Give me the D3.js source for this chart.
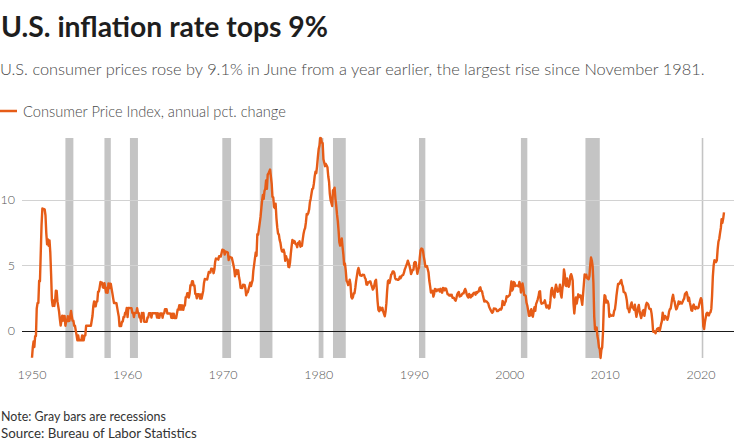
<!DOCTYPE html>
<html><head><meta charset="utf-8">
<script src="https://cdn.jsdelivr.net/npm/d3@7/dist/d3.min.js"></script>
<style>
body{margin:0;background:#fff}
svg{display:block}
text{font-family:Lato,"Noto Sans",sans-serif}
</style>
</head><body>
<svg id="chart" width="736" height="446"></svg>
<script>
// Monthly CPI-U, annual % change, starting January of each decade
const cpi1950s = [
-2.08,-1.26,-0.84,-1.26,-0.42,-0.42,1.69,2.11,2.11,3.82,3.80,5.93,
8.09,9.36,9.32,9.32,9.28,8.82,7.47,6.61,6.98,6.50,6.91,6.00,
4.33,2.33,1.89,2.31,1.89,2.27,3.05,3.04,2.22,1.85,1.45,0.88,
0.38,0.76,1.14,0.76,1.13,1.13,0.37,0.74,0.74,1.11,0.74,0.75,
1.13,1.50,1.12,0.75,0.75,0.37,0.37,0.00,-0.37,-0.74,-0.37,-0.74,
-0.74,-0.74,-0.74,-0.37,-0.74,-0.74,-0.37,-0.37,0.37,0.37,0.37,0.37,
0.37,0.37,0.37,0.75,1.12,1.87,2.24,1.87,1.86,2.23,2.23,2.99,
2.99,3.35,3.72,3.69,3.68,3.31,3.28,3.63,3.28,2.91,3.27,2.90,
3.62,3.25,3.60,3.58,3.21,2.85,2.47,2.12,2.12,2.12,2.11,1.76,
1.40,1.05,0.35,0.35,0.35,0.69,0.69,1.04,1.04,1.38,1.38,1.73];
const cpi1960s = [
1.04,1.73,1.73,1.72,1.72,1.72,1.37,1.37,1.03,1.36,1.36,1.36,
1.71,1.36,1.36,1.01,1.01,0.68,1.35,1.01,1.35,0.67,0.67,0.67,
0.67,1.01,1.01,1.34,1.34,1.34,1.00,1.34,1.33,1.33,1.33,1.33,
1.33,1.00,1.33,0.99,0.99,1.32,1.32,1.32,0.99,1.32,1.32,1.64,
1.64,1.64,1.31,1.31,1.31,1.31,1.30,0.98,1.30,0.97,1.30,0.97,
0.97,0.97,1.29,1.62,1.62,1.94,1.61,1.94,1.61,1.93,1.60,1.92,
1.92,2.56,2.56,2.87,2.87,2.53,2.85,3.48,3.48,3.79,3.79,3.46,
3.46,2.81,2.81,2.48,2.79,2.79,2.77,2.46,2.77,2.45,2.75,3.04,
3.65,3.95,3.94,3.93,3.92,4.21,4.49,4.46,4.45,4.75,4.73,4.72,
4.40,4.68,5.25,5.52,5.51,5.48,5.44,5.71,5.70,5.67,5.93,6.20];
const cpi1970s = [
6.18,6.15,5.82,6.06,6.04,6.01,5.98,5.41,5.66,5.63,5.60,5.57,
5.29,5.00,4.71,4.16,4.40,4.64,4.36,4.62,4.08,3.80,3.28,3.27,
3.27,3.51,3.50,3.49,3.23,2.71,2.95,2.94,3.19,3.42,3.67,3.41,
3.65,3.87,4.59,5.06,5.53,5.99,5.73,7.38,7.36,7.80,8.25,8.71,
9.39,10.02,10.39,10.09,10.71,10.86,11.51,10.86,11.95,12.06,12.20,12.34,
11.80,11.23,10.25,10.21,9.47,9.39,9.72,8.60,7.91,7.44,7.38,6.94,
6.72,6.29,6.07,6.05,6.20,5.97,5.35,5.71,5.49,5.46,4.88,4.86,
5.22,5.91,6.44,6.95,6.73,6.87,6.83,6.62,6.60,6.39,6.72,6.70,
6.84,6.43,6.55,6.50,6.97,7.41,7.70,7.86,8.31,8.93,8.89,9.02,
9.28,9.86,10.09,10.49,10.85,10.89,11.26,11.82,12.18,12.07,12.61,13.29];
const cpi1980s = [
13.91,14.18,14.76,14.73,14.41,14.38,13.13,12.87,12.60,12.77,12.65,12.52,
11.83,11.41,10.49,10.00,9.78,9.55,10.76,10.80,10.95,10.14,9.59,8.92,
8.39,7.62,6.78,6.51,6.68,7.06,6.44,5.85,5.04,5.14,4.59,3.83,
3.71,3.49,3.60,3.90,3.55,2.58,2.46,2.56,2.86,2.85,3.27,3.79,
4.19,4.60,4.80,4.56,4.23,4.22,4.20,4.29,4.27,4.26,4.05,3.95,
3.53,3.52,3.70,3.69,3.77,3.76,3.55,3.35,3.14,3.23,3.51,3.80,
3.89,3.11,2.26,1.59,1.49,1.77,1.58,1.57,1.75,1.47,1.28,1.10,
1.46,2.10,3.03,3.78,3.86,3.65,3.93,4.28,4.36,4.53,4.53,4.43,
4.03,3.93,3.93,3.89,3.89,3.96,4.13,4.02,4.17,4.25,4.25,4.42,
4.67,4.83,4.98,5.14,5.36,5.17,4.98,4.71,4.34,4.49,4.65,4.65];
const cpi1990s = [
5.20,5.26,5.23,4.71,4.36,4.67,4.82,5.62,6.16,6.29,6.27,6.11,
5.65,5.31,4.90,4.89,4.95,4.70,4.45,3.80,3.39,2.92,2.99,3.06,
2.60,2.82,3.19,3.18,3.02,3.09,3.16,3.15,2.99,3.20,3.05,2.90,
3.26,3.25,3.09,3.23,3.22,3.00,2.78,2.77,2.69,2.75,2.68,2.75,
2.52,2.52,2.51,2.36,2.29,2.49,2.77,2.90,2.96,2.61,2.67,2.67,
2.80,2.86,2.85,3.05,3.19,3.04,2.76,2.62,2.54,2.81,2.61,2.54,
2.73,2.65,2.84,2.90,2.89,2.75,2.95,2.88,3.00,2.99,3.26,3.32,
3.04,3.03,2.76,2.50,2.23,2.30,2.23,2.23,2.15,2.08,1.83,1.70,
1.57,1.44,1.37,1.44,1.69,1.68,1.68,1.62,1.49,1.49,1.55,1.61,
1.67,1.61,1.73,2.28,2.09,1.96,2.14,2.26,2.63,2.56,2.62,2.68];
const cpi2000s = [
2.74,3.22,3.76,3.07,3.19,3.73,3.66,3.41,3.45,3.45,3.45,3.39,
3.73,3.53,2.92,3.27,3.62,3.25,2.72,2.72,2.65,2.13,1.90,1.55,
1.14,1.14,1.48,1.64,1.18,1.07,1.46,1.80,1.51,2.03,2.20,2.38,
2.60,2.98,3.02,2.22,2.06,2.11,2.11,2.16,2.32,2.04,1.77,1.88,
1.93,1.69,1.74,2.29,3.05,3.27,2.99,2.65,2.54,3.19,3.52,3.26,
2.97,3.01,3.15,3.51,2.80,2.53,3.17,3.64,4.69,4.35,3.46,3.42,
3.99,3.60,3.36,3.55,4.17,4.32,4.15,3.82,2.06,1.31,1.97,2.54,
2.08,2.42,2.78,2.57,2.69,2.69,2.36,1.97,2.76,3.54,4.31,4.08,
4.28,4.03,3.98,3.94,4.18,5.02,5.60,5.37,4.94,3.66,1.07,0.09,
0.03,0.24,-0.38,-0.74,-1.28,-1.43,-2.10,-1.48,-1.29,-0.18,1.84,2.72];
const cpi2010s = [
2.63,2.14,2.31,2.24,2.02,1.05,1.24,1.15,1.14,1.17,1.14,1.50,
1.63,2.11,2.68,3.16,3.57,3.56,3.63,3.77,3.87,3.53,3.39,2.96,
2.93,2.87,2.65,2.30,1.70,1.66,1.41,1.69,1.99,2.16,1.76,1.74,
1.59,1.98,1.47,1.06,1.36,1.75,1.96,1.52,1.18,0.96,1.24,1.50,
1.58,1.13,1.51,1.95,2.13,2.07,1.99,1.70,1.66,1.66,1.32,0.76,
-0.09,-0.03,-0.07,-0.20,-0.04,0.12,0.17,0.20,-0.04,0.17,0.50,0.73,
1.37,1.02,0.85,1.13,1.02,1.01,0.83,1.06,1.46,1.64,1.69,2.07,
2.50,2.74,2.38,2.20,1.87,1.63,1.73,1.94,2.23,2.04,2.20,2.11,
2.07,2.21,2.36,2.46,2.80,2.87,2.95,2.70,2.28,2.52,2.18,1.91,
1.55,1.52,1.86,2.00,1.79,1.65,1.81,1.75,1.71,1.76,2.05,2.29];
const cpi2020s = [
2.49,2.33,1.54,0.33,0.12,0.65,0.99,1.31,1.37,1.18,1.17,1.36,
1.40,1.68,2.62,4.16,4.99,5.39,5.37,5.25,5.39,6.22,6.81,7.04,
7.48,7.87,8.54,8.26,8.58,9.06];

const startMonth = "1950-01";
const recessionStart = ["1953-07","1957-08","1960-04","1969-12","1973-11","1980-01","1981-07","1990-07","2001-03","2007-12","2020-02"];
const recessionEnd   = ["1954-05","1958-04","1961-02","1970-11","1975-03","1980-07","1982-11","1991-03","2001-11","2009-06","2020-04"];
const xTickYears = [1950,1960,1970,1980,1990,2000,2010,2020];
const yTicks = [0,5,10];

const titleText = "U.S. inflation rate tops 9%";
const subtitleText = "U.S. consumer prices rose by 9.1% in June from a year earlier, the largest rise since November 1981.";
const legendText = "Consumer Price Index, annual pct. change";
const noteText = "Note: Gray bars are recessions";
const sourceText = "Source: Bureau of Labor Statistics";

const parseMonth = d3.timeParse("%Y-%m");
const values = [].concat(cpi1950s, cpi1960s, cpi1970s, cpi1980s, cpi1990s, cpi2000s, cpi2010s, cpi2020s);
const t0 = parseMonth(startMonth);
const data = values.map((v, i) => ({date: d3.timeMonth.offset(t0, i), value: v}));

const ORANGE = "#e65c17";
const svg = d3.select("#chart");

function fit(sel, target) {
  const fs = parseFloat(sel.attr("font-size"));
  const len = sel.node().getComputedTextLength();
  sel.attr("font-size", (fs * target / len).toFixed(2));
  return sel;
}

const plot = {left: 32, right: 724, top: 138, bottom: 358, gridLeft: 22, gridRight: 734};

const x = d3.scaleTime()
  .domain(d3.extent(data, d => d.date))
  .range([plot.left, plot.right]);
const y = d3.scaleLinear()
  .domain(d3.extent(data, d => d.value))
  .range([plot.bottom, plot.top]);

// Titles
fit(svg.append("text").attr("x", 1).attr("y", 37).attr("font-size", 28).attr("font-weight", 700)
  .attr("fill", "#1e1e1e").text(titleText), 327);
fit(svg.append("text").attr("x", 0).attr("y", 75).attr("font-size", 17).attr("font-weight", 300)
  .attr("fill", "#4a4a4a").text(subtitleText), 705);

// Legend
svg.append("line").attr("x1", 0).attr("x2", 17).attr("y1", 111).attr("y2", 111)
  .attr("stroke", ORANGE).attr("stroke-width", 2.5);
fit(svg.append("text").attr("x", 23).attr("y", 117).attr("font-size", 15).attr("font-weight", 300)
  .attr("fill", "#4a4a4a").text(legendText), 263);

// Recession bars
svg.append("g").selectAll("rect")
  .data(recessionStart.map((s, i) => ({s: parseMonth(s), e: parseMonth(recessionEnd[i])})))
  .join("rect")
  .attr("x", d => x(d.s))
  .attr("width", d => Math.max(1.5, x(d.e) - x(d.s)))
  .attr("y", plot.top)
  .attr("height", plot.bottom - plot.top)
  .attr("fill", "#c4c4c4");

// Gridlines
svg.append("g").selectAll("line")
  .data(yTicks.filter(d => d !== 0))
  .join("line")
  .attr("x1", plot.gridLeft).attr("x2", plot.gridRight)
  .attr("y1", d => Math.round(y(d)) + 0.5).attr("y2", d => Math.round(y(d)) + 0.5)
  .attr("stroke", "#d2d2d2").attr("stroke-width", 1);

// Y labels
const yLab = svg.append("g").selectAll("text")
  .data(yTicks).join("text")
  .attr("x", 15).attr("y", d => y(d))
  .attr("dy", "0.35em")
  .attr("text-anchor", "end")
  .attr("font-size", 14)
  .attr("font-weight", 300)
  .attr("fill", "#555")
  .text(d => d);

// X labels
const xLab = svg.append("g").selectAll("text")
  .data(xTickYears).join("text")
  .attr("x", d => x(new Date(d, 0, 1)))
  .attr("y", 379)
  .attr("text-anchor", "middle")
  .attr("font-size", 14)
  .attr("font-weight", 300)
  .attr("fill", "#555")
  .text(d => d);
// size tick labels so "1950" spans the same width as in the original
{
  const n = xLab.nodes()[0];
  const fs = 14 * 29 / n.getComputedTextLength();
  xLab.attr("font-size", fs.toFixed(2));
  yLab.attr("font-size", fs.toFixed(2));
}

// Zero line
svg.append("line")
  .attr("x1", plot.gridLeft).attr("x2", plot.gridRight)
  .attr("y1", Math.round(y(0)) + 0.5).attr("y2", Math.round(y(0)) + 0.5)
  .attr("stroke", "#1a1a1a").attr("stroke-width", 1);

// CPI line
svg.append("path")
  .datum(data)
  .attr("fill", "none")
  .attr("stroke", ORANGE)
  .attr("stroke-width", 2.4)
  .attr("stroke-linejoin", "round")
  .attr("stroke-linecap", "butt")
  .attr("d", d3.line().x(d => x(d.date)).y(d => y(d.value)));

// Footnotes
fit(svg.append("text").attr("x", 1).attr("y", 421).attr("font-size", 13)
  .attr("fill", "#333").text(noteText), 165);
fit(svg.append("text").attr("x", 1).attr("y", 438).attr("font-size", 13)
  .attr("fill", "#333").text(sourceText), 196);
</script>
</body></html>
